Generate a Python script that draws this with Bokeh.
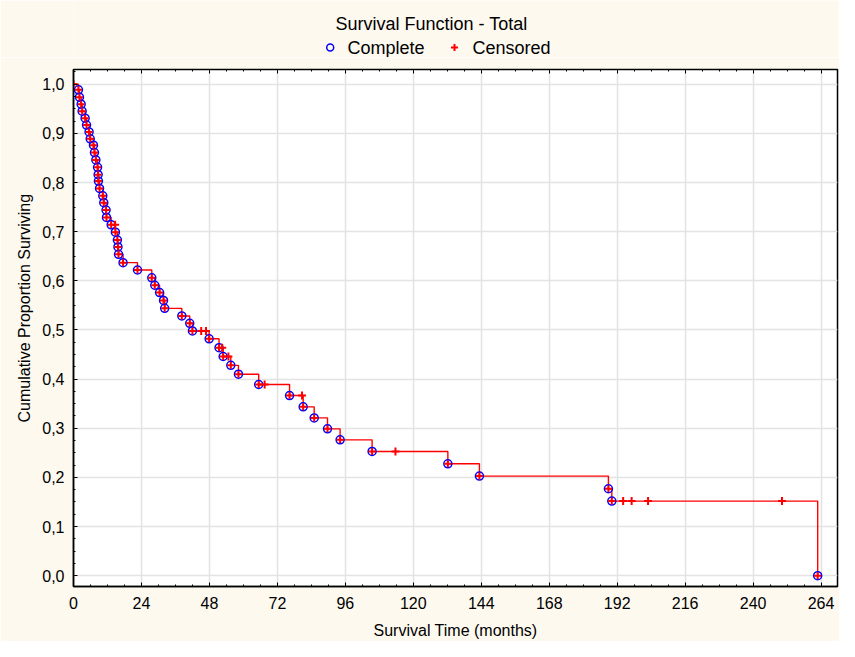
from bokeh.plotting import figure
from bokeh.layouts import column
from bokeh.models import (Range1d, SingleIntervalTicker, LinearAxis, CustomJSTickFormatter, Title)
from bokeh.embed import file_html
from bokeh.resources import INLINE
from bokeh.core.properties import value

title_text = "Survival Function - Total"
x_label = "Survival Time (months)"
y_label = "Cumulative Proportion Surviving"
legend_labels = ["Complete", "Censored"]

# complete (event) observations: time (months) and cumulative proportion surviving after the event
complete_t = [1.75, 2.1, 2.7, 3.05, 4.1, 4.6, 5.5, 5.9, 7.05, 7.4,
              7.9, 8.5, 8.7, 8.8, 9.2, 10.35, 10.7, 11.5, 11.65, 13.3,
              14.8, 15.5, 15.7, 15.9, 17.5, 22.6, 27.65, 28.7, 30.4, 31.8,
              32.2, 38.25, 41.05, 42.0, 47.9, 51.4, 52.85, 55.55, 58.25, 65.4,
              76.3, 81.1, 85.0, 89.7, 94.15, 105.45, 132.2, 143.35, 188.9, 190.1,
              262.8]
complete_s = [0.9886, 0.9736, 0.9594, 0.9452, 0.931, 0.917, 0.903, 0.889, 0.876, 0.861,
              0.846, 0.831, 0.816, 0.803, 0.788, 0.773, 0.759, 0.744, 0.729, 0.714,
              0.699, 0.683, 0.669, 0.654, 0.637, 0.622, 0.606, 0.591, 0.576, 0.560,
              0.544, 0.5285, 0.5136, 0.498, 0.482, 0.464, 0.446, 0.428, 0.41, 0.389,
              0.3666, 0.3436, 0.3211, 0.2988, 0.2764, 0.2528, 0.2277, 0.2026, 0.1769, 0.1518,
              0.0]

# censored observations
censored_t = [0.0, 14.7, 45.1, 46.8, 52.5, 54.7, 67.5, 80.7, 113.7, 194.1, 197.1, 202.9, 250.2]
censored_s = [1.0, 0.714, 0.498, 0.498, 0.464, 0.446, 0.389, 0.3666, 0.2528, 0.1518, 0.1518, 0.1518, 0.1518]

FONT = "Liberation Sans"
CREAM = "#FDF9EF"
W = 839
HEAD_H = 57
LEFT = 73
RIGHT = 2

# ---------- header: title and legend (frame aligned with the main plot's frame) ----------
h = figure(width=W, height=HEAD_H, output_backend="svg", toolbar_location=None,
           x_range=Range1d(LEFT, W - RIGHT), y_range=Range1d(0, HEAD_H),
           min_border=0, min_border_left=LEFT, min_border_right=RIGHT,
           x_axis_location=None, y_axis_location=None,
           background_fill_color=CREAM, border_fill_color=CREAM)
h.title = None
h.outline_line_color = None
h.grid.visible = False
h.text(x=[431], y=[HEAD_H - 23], text=[title_text], text_align="center", text_baseline="middle",
       text_font=value(FONT), text_font_size=value("18px"), text_color="black")
h.scatter(x=[329.7], y=[HEAD_H - 47], marker="circle", size=7, fill_color=None,
          line_color="blue", line_width=1.5)
h.scatter(x=[454], y=[HEAD_H - 47], marker="cross", size=7, line_color="red", line_width=2)
h.text(x=[347, 472], y=[HEAD_H - 47, HEAD_H - 47], text=legend_labels, text_align="left",
       text_baseline="middle", text_font=value(FONT), text_font_size=value("18px"),
       text_color="black")

# ---------- main plot ----------
p = figure(width=W, height=641 - HEAD_H, output_backend="svg", toolbar_location=None,
           x_range=Range1d(0, 269.8), y_range=Range1d(-0.022, 1.03),
           min_border_left=LEFT, min_border_right=RIGHT, min_border_top=12, min_border_bottom=55,
           background_fill_color="white", border_fill_color=CREAM)
p.outline_line_color = "black"
p.outline_line_width = 1.5

step_x = [0.0] + complete_t
step_y = [1.0] + complete_s
p.step(step_x, step_y, mode="after", line_color="red", line_width=1.4)
p.scatter(complete_t, complete_s, marker="circle", size=8, fill_color=None,
          line_color="blue", line_width=1.5)
p.scatter(complete_t, complete_s, marker="cross", size=7, line_color="red", line_width=2)
p.scatter(censored_t, censored_s, marker="cross", size=8, line_color="red", line_width=2)

p.xaxis.ticker = SingleIntervalTicker(interval=24, num_minor_ticks=4)
p.yaxis.ticker = SingleIntervalTicker(interval=0.1, num_minor_ticks=4)
p.yaxis.formatter = CustomJSTickFormatter(code="return tick.toFixed(1).replace('.', ',');")
p.xaxis.axis_label = x_label
for ax in (p.xaxis[0], p.yaxis[0]):
    ax.axis_label_text_font = FONT
    ax.axis_label_text_font_size = "16px"
    ax.axis_label_text_font_style = "normal"
    ax.axis_label_text_color = "black"
    ax.major_label_text_font = FONT
    ax.major_label_text_font_size = "16px"
    ax.major_label_text_color = "black"
    ax.major_tick_in = 4
    ax.major_tick_out = 0
    ax.minor_tick_in = 2
    ax.minor_tick_out = 0
    ax.axis_line_color = "black"
    ax.axis_line_width = 1.5
    ax.major_tick_line_color = "black"
    ax.minor_tick_line_color = "black"
p.xaxis.major_label_standoff = 10
p.xaxis.axis_label_standoff = 10
p.yaxis.major_label_standoff = 9

empty = CustomJSTickFormatter(code="return '';")
top_ax = LinearAxis(ticker=SingleIntervalTicker(interval=24, num_minor_ticks=4), formatter=empty,
                    major_tick_in=4, major_tick_out=0, minor_tick_in=2, minor_tick_out=0,
                    major_label_standoff=0, axis_line_color="black",
                    major_tick_line_color="black", minor_tick_line_color="black")
p.add_layout(top_ax, "above")

ylab = Title(text=y_label, align="left", offset=164, standoff=13, text_font=FONT,
             text_font_size="16px", text_font_style="normal", text_color="black")
p.add_layout(ylab, "left")

p.xgrid.grid_line_color = "#e3e3e3"
p.ygrid.grid_line_color = "#e3e3e3"
p.xgrid.grid_line_width = 1.5
p.ygrid.grid_line_width = 1.5

layout = column(h, p, spacing=0)
open("out.html", "w").write(file_html(layout, INLINE))
